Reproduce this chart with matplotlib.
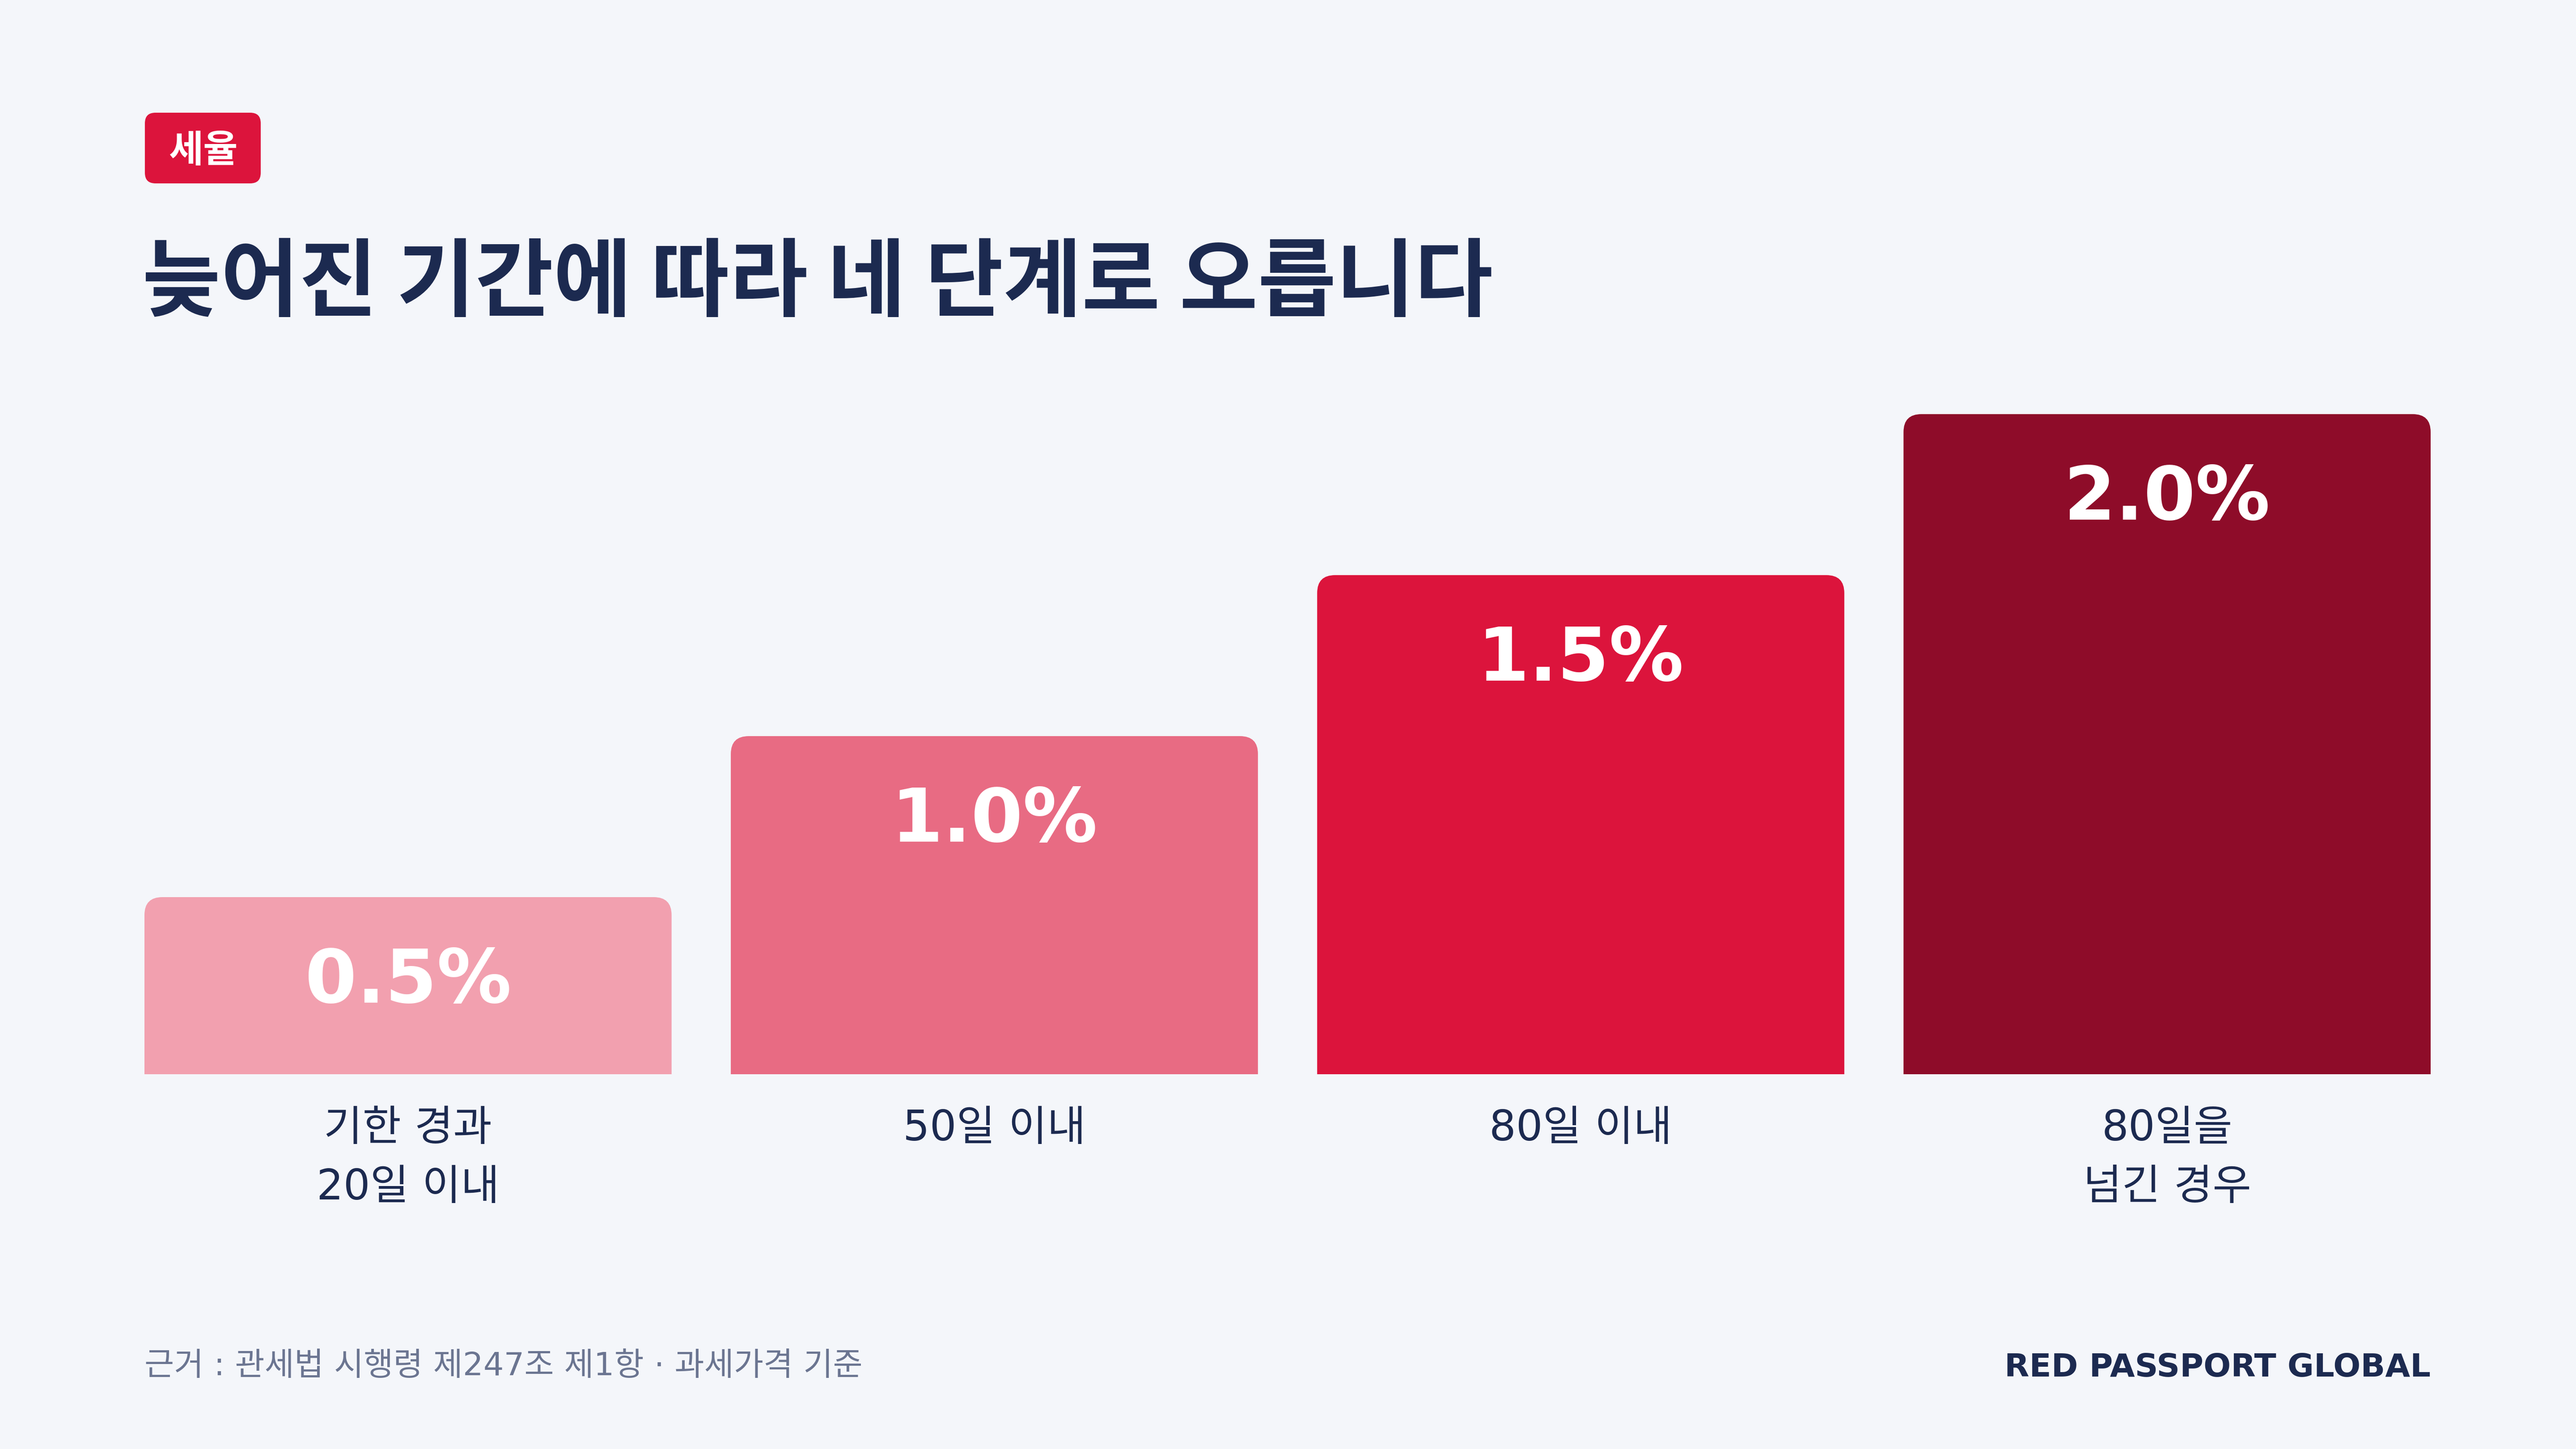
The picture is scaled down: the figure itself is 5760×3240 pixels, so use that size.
import matplotlib
matplotlib.use("Agg")
import matplotlib.pyplot as plt
from matplotlib.path import Path
from matplotlib.patches import PathPatch, FancyBboxPatch
from matplotlib import transforms

# ---- data ----
categories = ["기한 경과\n20일 이내", "50일 이내", "80일 이내", "80일을\n넘긴 경우"]
rates = [0.5, 1.0, 1.5, 2.0]
value_labels = ["0.5%", "1.0%", "1.5%", "2.0%"]
bar_colors = ["#F2A0AF", "#E86B83", "#DC143C", "#8E0C29"]
badge_text = "세율"
title_text = "늦어진 기간에 따라 네 단계로 오릅니다"
source_text = "근거 : 관세법 시행령 제247조 제1항 · 과세가격 기준"
brand_text = "RED PASSPORT GLOBAL"

BG = "#F4F6FA"
NAVY = "#1C2A50"
GRAY = "#6B7591"
RED = "#DC143C"

MIX = ["DejaVu Sans", "Noto Sans CJK KR"]
KR = ["Noto Sans CJK KR", "DejaVu Sans"]

W, H = 5760, 3240
fig = plt.figure(figsize=(16, 9), dpi=360, facecolor=BG)

# axes placement (pixels)
ax_l, ax_r, ax_b, ax_t = 323, 5435, 2402, 926
ax = fig.add_axes([ax_l / W, 1 - ax_b / H, (ax_r - ax_l) / W, (ax_b - ax_t) / H])
ax.set_facecolor(BG)
ymin = -0.05
ax.set_xlim(-0.4495, 3.4495)
ax.set_ylim(ymin, 2.0)
ax.axis("off")

bar_w = 0.899
# corner radius in data units (≈40 px)
px_per_x = (ax_r - ax_l) / 3.899
px_per_y = (ax_b - ax_t) / 2.05
rx = 40 / px_per_x
ry = 40 / px_per_y


def top_rounded(x0, x1, y0, y1):
    verts = [(x0, y0), (x0, y1 - ry), (x0, y1), (x0 + rx, y1),
             (x1 - rx, y1), (x1, y1), (x1, y1 - ry), (x1, y0), (x0, y0)]
    codes = [Path.MOVETO, Path.LINETO, Path.CURVE3, Path.CURVE3,
             Path.LINETO, Path.CURVE3, Path.CURVE3, Path.LINETO, Path.CLOSEPOLY]
    return Path(verts, codes)


for i, (v, c, lab) in enumerate(zip(rates, bar_colors, value_labels)):
    p = top_rounded(i - bar_w / 2, i + bar_w / 2, ymin, v)
    ax.add_patch(PathPatch(p, facecolor=c, edgecolor="none"))
    ax.annotate(lab, xy=(i, v), xytext=(0, -47.2), textcoords="offset points",
                ha="center", va="baseline", color="white", fontsize=33.3,
                fontweight="bold", family=["DejaVu Sans"])

# category labels
btrans = transforms.blended_transform_factory(ax.transData, fig.transFigure)
line_baselines = [2550, 2682]
for i, cat in enumerate(categories):
    for j, line in enumerate(cat.split("\n")):
        fig.text(i, 1 - line_baselines[j] / H, line, transform=btrans,
                 ha="center", va="baseline", color=NAVY, fontsize=18.8,
                 family=MIX)

# badge
badge = FancyBboxPatch((324 / 360, (H - 410) / 360), 259 / 360, 158 / 360,
                       boxstyle="round,pad=0,rounding_size=0.065",
                       transform=fig.dpi_scale_trans, facecolor=RED,
                       edgecolor="none")
fig.patches.append(badge)
fig.text(454 / W, 1 - 338 / H, badge_text, ha="center", va="center",
         color="white", fontsize=16.8, fontweight="bold", family=KR)

# title
fig.text(318 / W, 1 - 692 / H, title_text, ha="left", va="baseline",
         color=NAVY, fontsize=38.1, fontweight="bold", family=KR)

# footer
fig.text(323 / W, 1 - 3075 / H, source_text, ha="left", va="baseline",
         color=GRAY, fontsize=14.4, family=MIX)
fig.text(ax_r / W, 1 - 3078 / H, brand_text, ha="right", va="baseline",
         color=NAVY, fontsize=14.4, fontweight="bold", family=["DejaVu Sans"])

fig.savefig("out.png", dpi=360, facecolor=BG)
